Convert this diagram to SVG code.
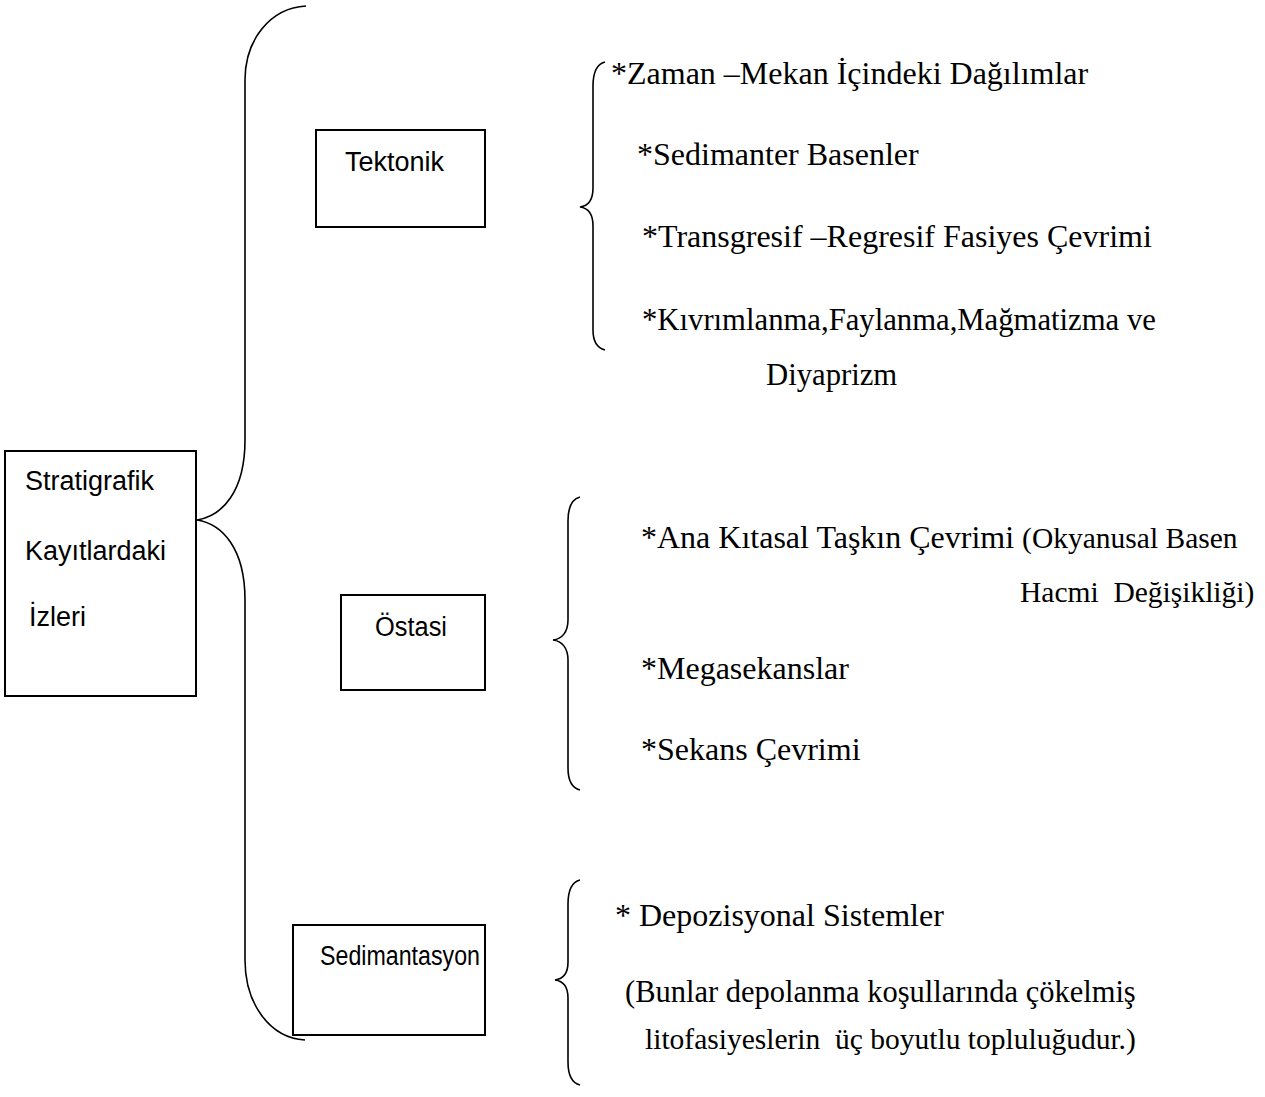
<svg xmlns="http://www.w3.org/2000/svg" width="1265" height="1097" viewBox="0 0 1265 1097">
<style>
.box{fill:#fff;stroke:#000;stroke-width:2}
.br{fill:none;stroke:#000;stroke-width:1.6}
.sans{font-family:"Liberation Sans","Open Sans",sans-serif;font-size:27px;fill:#000}
.ser{font-family:"Liberation Serif","Times New Roman",serif;font-size:32px;fill:#000}
.sm{font-family:"Liberation Serif","Times New Roman",serif;font-size:29.5px;fill:#000}
</style>
<rect width="1265" height="1097" fill="#fff"/>
<g id="connectors">
<path class="br" d="M306,6 C270,8 245,40 245,80 L245,440 C245,492 222,516 197,520 C222,524 245,548 245,600 L245,960 C245,1004 270,1038 305,1040"/>
<path class="br" d="M605,62 C597,64 593,72 593,86 L593,188 C593,200 588,206 580,207 C588,208 593,214 593,226 L593,330 C593,342 597,348 605,350"/>
<path class="br" d="M580,497 C572,499 568,507 568,521 L568,620 C568,632 562,639 553,640 C562,641 568,648 568,660 L568,768 C568,781 572,788 580,790"/>
<path class="br" d="M580,880 C572,882 568,890 568,904 L568,962 C568,974 563,979 555,980 C563,981 568,986 568,998 L568,1062 C568,1075 572,1083 580,1085"/>
</g>
<g id="node-main">
<rect class="box" x="5" y="451" width="191" height="245"/>
<text class="sans" x="25" y="490">Stratigrafik</text>
<text class="sans" x="25" y="560">Kayıtlardaki</text>
<text class="sans" x="29" y="626">İzleri</text>
</g>
<g id="node-tektonik">
<rect class="box" x="316" y="130" width="169" height="97"/>
<text class="sans" x="345" y="171">Tektonik</text>
</g>
<g id="node-ostasi">
<rect class="box" x="341" y="595" width="144" height="95"/>
<text class="sans" x="375" y="636" textLength="72" lengthAdjust="spacingAndGlyphs">Östasi</text>
</g>
<g id="node-sedimantasyon">
<rect class="box" x="293" y="925" width="192" height="110"/>
<text class="sans" x="320" y="965" textLength="160" lengthAdjust="spacingAndGlyphs">Sedimantasyon</text>
</g>
<g id="text-tektonik">
<text class="ser" x="611" y="84">*Zaman –Mekan İçindeki Dağılımlar</text>
<text class="ser" x="637" y="165">*Sedimanter Basenler</text>
<text class="ser" x="642" y="247">*Transgresif –Regresif Fasiyes Çevrimi</text>
<text class="ser" x="642" y="330" style="font-size:30.7px">*Kıvrımlanma,Faylanma,Mağmatizma ve</text>
<text class="ser" x="766" y="385" style="font-size:30.7px">Diyaprizm</text>
</g>
<g id="text-ostasi">
<text class="ser" x="641" y="548">*Ana Kıtasal Taşkın Çevrimi <tspan class="sm">(Okyanusal Basen</tspan></text>
<text class="sm" x="1020" y="602" xml:space="preserve">Hacmi  Değişikliği)</text>
<text class="ser" x="641" y="679">*Megasekanslar</text>
<text class="ser" x="641" y="760">*Sekans Çevrimi</text>
</g>
<g id="text-sedimantasyon">
<text class="ser" x="615" y="926">* Depozisyonal Sistemler</text>
<text class="sm" x="625" y="1002" style="font-size:30.5px">(Bunlar depolanma koşullarında çökelmiş</text>
<text class="sm" x="645" y="1049" xml:space="preserve">litofasiyeslerin  üç boyutlu topluluğudur.)</text>
</g>
</svg>
